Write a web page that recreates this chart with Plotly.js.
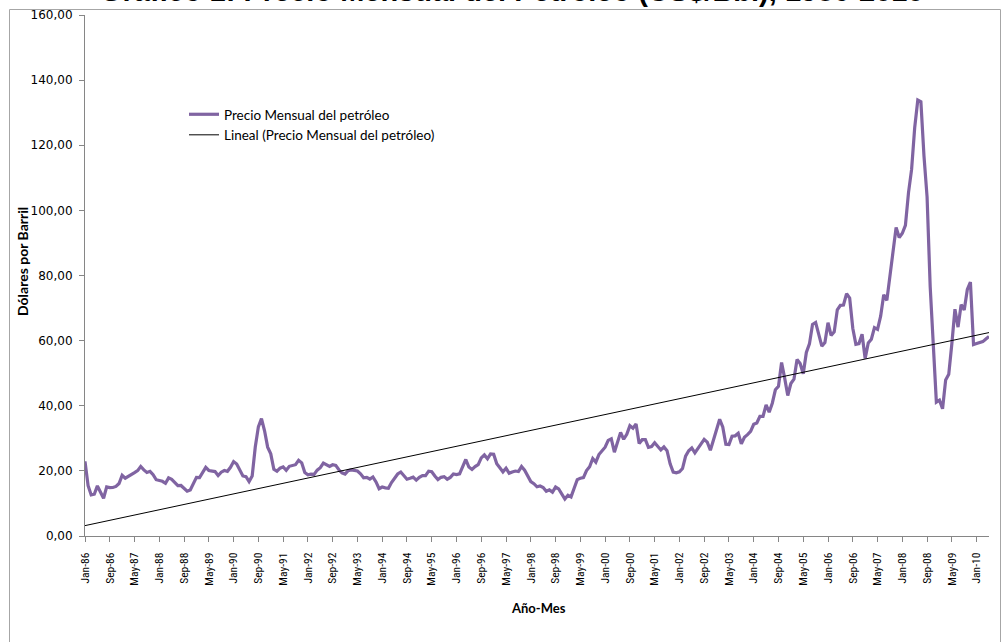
<!DOCTYPE html>
<html>
<head>
<meta charset="utf-8">
<script src="https://cdn.plot.ly/plotly-3.0.1.min.js"></script>
<style>
html,body{margin:0;padding:0;background:#fff;}
#chart{width:1003px;height:642px;}
</style>
</head>
<body>
<div id="chart"></div>
<script>
// Monthly oil price (US$ per barrel), Jan-1986 .. May-2010
const monthNames = ['Jan','Feb','Mar','Apr','May','Jun','Jul','Aug','Sep','Oct','Nov','Dec'];
const years = [1986,1987,1988,1989,1990,1991,1992,1993,1994,1995,1996,1997,1998,1999,2000,2001,2002,2003,2004,2005,2006,2007,2008,2009,2010];

const p1986 = [22.93,15.46,12.61,12.84,15.38,13.43,11.59,15.10,14.87,14.90,15.22,16.11];
const p1987 = [18.65,17.75,18.30,18.68,19.44,20.07,21.34,20.31,19.53,19.86,18.85,17.28];
const p1988 = [17.13,16.80,16.20,17.86,17.42,16.53,15.50,15.52,14.54,13.77,14.14,16.38];
const p1989 = [18.02,17.94,19.48,21.07,20.12,20.05,19.78,18.58,19.59,20.10,19.86,21.10];
const p1990 = [22.86,22.11,20.39,18.43,18.20,16.70,18.45,27.31,33.51,36.04,32.33,27.28];
const p1991 = [25.23,20.48,19.90,20.83,21.23,20.19,21.40,21.69,21.89,23.23,22.46,19.50];
const p1992 = [18.79,19.01,18.92,20.23,20.98,22.39,21.78,21.34,21.88,21.69,20.34,19.41];
const p1993 = [19.03,20.09,20.32,20.25,19.95,19.09,17.89,18.01,17.50,18.15,16.61,14.52];
const p1994 = [15.03,14.78,14.68,16.42,17.89,19.06,19.66,18.38,17.45,17.72,18.07,17.16];
const p1995 = [18.04,18.57,18.54,19.90,19.74,18.45,17.33,18.02,18.23,17.43,17.99,19.03];
const p1996 = [18.86,19.09,21.33,23.50,21.17,20.42,21.30,21.90,23.97,24.88,23.71,25.23];
const p1997 = [25.13,22.18,20.97,19.70,20.82,19.26,19.66,19.95,19.80,21.33,20.19,18.33];
const p1998 = [16.72,16.06,15.12,15.35,14.91,13.72,14.17,13.47,15.03,14.46,13.00,11.35];
const p1999 = [12.52,12.01,14.68,17.31,17.72,17.92,20.10,21.28,23.80,22.69,25.00,26.10];
const p2000 = [27.26,29.37,29.84,25.72,28.79,31.82,29.70,31.26,33.88,33.11,34.42,28.44];
const p2001 = [29.59,29.61,27.24,27.49,28.63,27.60,26.43,27.37,26.20,22.17,19.64,19.39];
const p2002 = [19.72,20.72,24.53,26.18,27.04,25.52,26.97,28.39,29.66,28.84,26.35,29.46];
const p2003 = [32.95,35.83,33.51,28.17,28.11,30.66,30.76,31.57,28.31,30.34,31.11,32.13];
const p2004 = [34.31,34.69,36.74,36.75,40.28,38.03,40.78,44.90,45.94,53.28,48.47,43.15];
const p2005 = [46.84,48.15,54.19,52.98,49.83,56.35,59.00,64.99,65.59,62.26,58.32,59.41];
const p2006 = [65.49,61.63,62.69,69.44,70.84,70.95,74.41,73.04,63.80,58.89,59.08,61.96];
const p2007 = [54.51,59.28,60.44,63.98,63.46,67.49,74.12,72.36,79.92,85.80,94.77,91.69];
const p2008 = [92.97,95.39,105.45,112.58,125.40,133.88,133.37,116.67,104.11,76.61,57.31,41.12];
const p2009 = [41.71,39.09,47.94,49.65,59.03,69.64,64.15,71.05,69.41,75.72,77.99,58.80];
const p2010 = [59.10,59.40,59.70,60.50,61.30];

const yTickVals = [0,20,40,60,80,100,120,140,160];
const yTickText = ['0,00','20,00','40,00','60,00','80,00','100,00','120,00','140,00','160,00'];

const seriesName = 'Precio Mensual del petróleo';
const trendName = 'Lineal (Precio Mensual del petróleo)';
const titleText = 'Gráfico 1: Precio Mensual del Petróleo (US$/Bbl), 1986-2010';
const yTitle = 'Dólares por Barril';
const xTitle = 'Año-Mes';

const byYear = [p1986,p1987,p1988,p1989,p1990,p1991,p1992,p1993,p1994,p1995,p1996,p1997,p1998,p1999,p2000,p2001,p2002,p2003,p2004,p2005,p2006,p2007,p2008,p2009,p2010];

const cats = [], prices = [];
byYear.forEach((arr, yi) => {
  arr.forEach((v, mi) => {
    cats.push(monthNames[mi] + '-' + String(years[yi]).slice(2));
    prices.push(v);
  });
});

// Linear least-squares trendline (Excel "Lineal")
const n = prices.length;
let sx=0, sy=0, sxx=0, sxy=0;
for (let i=0;i<n;i++){ const x=i+1; sx+=x; sy+=prices[i]; sxx+=x*x; sxy+=x*prices[i]; }
const slope = (n*sxy - sx*sy)/(n*sxx - sx*sx);
const icpt = (sy - slope*sx)/n;
const trend = prices.map((_, i) => icpt + slope*(i+1));

const L=85, R=14, T=15, B=106;
const W = 1003-L-R, H = 642-T-B;
const px2x = p => (p - L)/W;
const py2y = p => (642 - B - p)/H;

const traces = [
  {x: cats, y: prices, type:'scatter', mode:'lines', name: seriesName,
   line:{color:'#8064A2', width:3.2}},
  {x: cats, y: trend, type:'scatter', mode:'lines', name: trendName,
   line:{color:'#000000', width:1}}
];

const layout = {
  width:1003, height:642,
  margin:{l:L, r:R, t:T, b:B, pad:0},
  paper_bgcolor:'#ffffff', plot_bgcolor:'#ffffff',
  showlegend:true,
  legend:{x:px2x(184), y:py2y(99), xanchor:'left', yanchor:'top',
    bgcolor:'rgba(0,0,0,0)', font:{family:'Lato, Carlito, sans-serif', size:13.5, color:'#000'},
    tracegroupgap:0},
  xaxis:{type:'category', range:[0, n-1], tickmode:'linear', tick0:0, dtick:8,
    tickangle:-90, ticks:'outside', ticklen:5, tickcolor:'#868686',
    showline:true, linecolor:'#868686', linewidth:1, showgrid:false, zeroline:false,
    tickfont:{family:'Liberation Sans Narrow, Roboto Condensed, Liberation Sans, sans-serif', size:11.5, color:'#000'},
    ticklabelstandoff:6},
  yaxis:{range:[0,160], tickmode:'array', tickvals:yTickVals, ticktext:yTickText,
    ticks:'outside', ticklen:5, tickcolor:'#868686',
    showline:true, linecolor:'#868686', linewidth:1, showgrid:false, zeroline:false,
    tickfont:{family:'DejaVu Sans, Verdana, sans-serif', size:12, color:'#000'},
    ticklabelstandoff:4},
  annotations:[
    {text:'<b>'+titleText+'</b>', xref:'paper', yref:'paper', x:px2x(512), y:py2y(9),
     xanchor:'center', yanchor:'bottom', showarrow:false,
     font:{family:'Liberation Sans, Arial, sans-serif', size:29, color:'#000'}},
    {text:'<b>'+yTitle+'</b>', xref:'paper', yref:'paper', x:px2x(22), y:py2y(262),
     xanchor:'center', yanchor:'middle', textangle:-90, showarrow:false,
     font:{family:'Lato, Carlito, sans-serif', size:14, color:'#000'}},
    {text:'<b>'+xTitle+'</b>', xref:'paper', yref:'paper', x:px2x(538), y:py2y(608),
     xanchor:'center', yanchor:'middle', showarrow:false,
     font:{family:'Lato, Carlito, sans-serif', size:13, color:'#000'}}
  ],
  shapes:[
    {type:'rect', xref:'paper', yref:'paper', x0:px2x(9.5), x1:px2x(1000.5), y0:py2y(700), y1:py2y(9.5),
     line:{color:'#A6A6A6', width:1}, fillcolor:'rgba(0,0,0,0)', layer:'below'}
  ]
};

Plotly.newPlot('chart', traces, layout, {displayModeBar:false, staticPlot:true});
</script>
</body>
</html>
